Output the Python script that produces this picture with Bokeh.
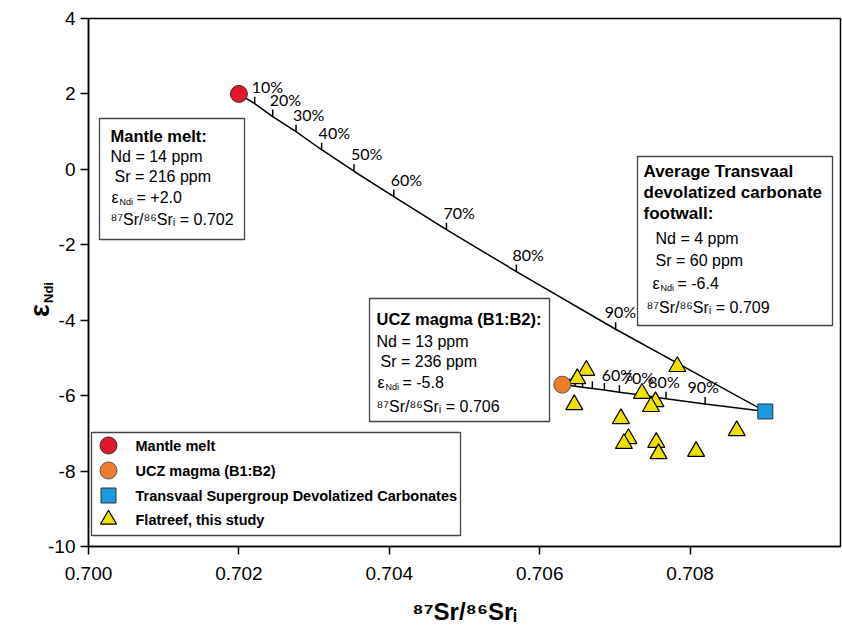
import numpy as np
from bokeh.plotting import figure
from bokeh.models import Range1d, FixedTicker, PrintfTickFormatter, Label, BoxAnnotation
from bokeh.embed import file_html
from bokeh.resources import INLINE
from bokeh.core.properties import value

# ---------------- data ----------------
mantle_sr = [0.702]
mantle_end = [2.0]
ucz_sr = [0.7063]
ucz_end = [-5.71]
carb_sr = [0.709]
carb_end = [-6.42]

flat_sr = [0.70783, 0.70662, 0.70650, 0.70646, 0.70736, 0.70754, 0.70748,
           0.70708, 0.70718, 0.70712, 0.70755, 0.70758, 0.70808, 0.70862]
flat_end = [-5.23, -5.33, -5.55, -6.24, -5.94, -6.16, -6.29,
            -6.61, -7.14, -7.27, -7.24, -7.54, -7.48, -6.93]

mix_labels = ["10%", "20%", "30%", "40%", "50%", "60%", "70%", "80%", "90%"]
# mantle melt -> carbonate mixing curve
mix1_sr = [0.70221, 0.70245, 0.70276, 0.70310, 0.70353, 0.70406, 0.70476, 0.70569, 0.70701]
mix1_end = [1.74, 1.40, 1.00, 0.52, -0.05, -0.72, -1.60, -2.71, -4.24]
# UCZ magma -> carbonate mixing curve
mix2_sr = [0.70640, 0.70647, 0.70657, 0.70670, 0.70686, 0.70706, 0.70734, 0.70768, 0.70820]
mix2_end = [-5.73, -5.75, -5.78, -5.81, -5.85, -5.91, -5.98, -6.08, -6.22]

x_ticks = [0.700, 0.702, 0.704, 0.706, 0.708]
y_ticks = [-10, -8, -6, -4, -2, 0, 2, 4]

# ---------------- layout constants ----------------
W, H = 842, 632
FL, FT, FR, FB = 88, 18, 840, 546      # frame edges in window px
X0, X1, Y0, Y1 = 0.700, 0.710, -10, 4

def dx(px):
    return X0 + (px - FL) / (FR - FL) * (X1 - X0)

def dy(py):
    return Y1 - (py - FT) / (FB - FT) * (Y1 - Y0)

RED = "#E3172C"
ORANGE = "#EE7D2B"
BLUE = "#1A9BDB"
YELLOW = "#EEE100"
FONT = "Liberation Sans"

p = figure(width=W, height=H, x_range=Range1d(X0, X1), y_range=Range1d(Y0, Y1),
           output_backend="svg", toolbar_location=None,
           min_border_left=FL, min_border_right=W - FR, min_border_top=FT,
           min_border_bottom=H - FB)
p.background_fill_color = "white"
p.border_fill_color = "white"
p.outline_line_color = "black"
p.outline_line_width = 1.5
p.xgrid.visible = False
p.ygrid.visible = False

for ax in (p.xaxis[0], p.yaxis[0]):
    ax.axis_line_color = "black"
    ax.axis_line_width = 1.5
    ax.major_tick_line_color = "black"
    ax.major_tick_line_width = 1.5
    ax.major_tick_out = 8
    ax.major_tick_in = 0
    ax.minor_tick_line_color = None
    ax.major_label_text_font = FONT
    ax.major_label_text_font_size = "19px"
    ax.major_label_text_color = "black"

p.xaxis.ticker = FixedTicker(ticks=x_ticks)
p.yaxis.ticker = FixedTicker(ticks=y_ticks)
p.xaxis.formatter = PrintfTickFormatter(format="%.3f")
p.yaxis.formatter = PrintfTickFormatter(format="%d")
p.xaxis.major_label_standoff = 12
p.yaxis.major_label_standoff = 5

p.xaxis.axis_label = "\u2078\u2077Sr/\u2078\u2076Sr\u1d62"
p.xaxis.axis_label_text_font = FONT
p.xaxis.axis_label_text_font_size = "24px"
p.xaxis.axis_label_text_font_style = "bold"
p.xaxis.axis_label_text_color = "black"
p.xaxis.axis_label_standoff = 15

# ---------------- mixing lines ----------------
line1_x = mantle_sr + mix1_sr + carb_sr
line1_y = mantle_end + mix1_end + carb_end
line2_x = ucz_sr + mix2_sr + carb_sr
line2_y = ucz_end + mix2_end + carb_end
p.line(line1_x, line1_y, line_color="black", line_width=1.5)
p.line(line2_x, line2_y, line_color="black", line_width=1.5)

p.ray(x=mix1_sr, y=mix1_end, length=7, length_units="screen", angle=np.pi / 2,
      line_color="black", line_width=1.5)
p.ray(x=mix2_sr, y=mix2_end, length=7, length_units="screen", angle=np.pi / 2,
      line_color="black", line_width=1.5)

lab1_dx = [-3, -3, -3, -3, -3, -3, -3, -4, -11]
p.text(x=mix1_sr, y=mix1_end, text=mix_labels, x_offset=lab1_dx, y_offset=-8,
       text_font=value("Lato"), text_font_size="16px", text_color="black",
       text_align="left", text_baseline="bottom")
p.text(x=mix2_sr[5:], y=mix2_end[5:], text=mix_labels[5:], x_offset=-2, y_offset=-8,
       text_font=value("Lato"), text_font_size="16px", text_color="black",
       text_align="center", text_baseline="bottom")

# ---------------- points ----------------
p.scatter(flat_sr, flat_end, marker="triangle", size=17, fill_color=YELLOW,
          line_color="black", line_width=1.2)
p.scatter(mantle_sr, mantle_end, marker="circle", size=17, fill_color=RED,
          line_color="#333333", line_width=1)
p.scatter(ucz_sr, ucz_end, marker="circle", size=17, fill_color=ORANGE,
          line_color="#555555", line_width=1)
p.scatter(carb_sr, carb_end, marker="square", size=15, fill_color=BLUE,
          line_color="#333333", line_width=1)

# ---------------- helpers for annotation boxes ----------------
def box(l, t, r, b):
    p.add_layout(BoxAnnotation(left=dx(l), right=dx(r), top=dy(t), bottom=dy(b),
                               fill_color="white", fill_alpha=1.0,
                               line_color="#444444", line_width=1.3, line_alpha=1.0))

def txt(s, px, py, size=16, bold=False, align="left", baseline="middle", angle=0.0):
    p.add_layout(Label(x=dx(px), y=dy(py), text=s, text_font=FONT,
                       text_font_size=f"{size}px",
                       text_font_style="bold" if bold else "normal",
                       text_color="black", text_align=align,
                       text_baseline=baseline, angle=angle))

def eps_line(px, py, rest):
    txt("\u03b5", px, py, 16)
    txt("Ndi", px + 8, py + 4, 9)
    txt(rest, px + 25, py, 16)

SRI = "\u2078\u2077Sr/\u2078\u2076Sr\u1d62 = "

# mantle melt box
box(99, 118, 244, 239)
txt("Mantle melt:", 110, 135, 16.5, bold=True)
txt("Nd = 14 ppm", 110, 156)
txt("Sr = 216 ppm", 114, 176)
eps_line(111, 197, "= +2.0")
txt(SRI + "0.702", 110, 219)

# UCZ box
box(369, 298, 549, 421)
txt("UCZ magma (B1:B2):", 376, 318, 16.5, bold=True)
txt("Nd = 13 ppm", 376, 341)
txt("Sr = 236 ppm", 380, 361)
eps_line(377, 382, "= -5.8")
txt(SRI + "0.706", 376, 406)

# Transvaal box
box(637, 156, 832, 325)
txt("Average Transvaal", 643, 171, 17, bold=True)
txt("devolatized carbonate", 643, 192, 17, bold=True)
txt("footwall:", 643, 213, 17, bold=True)
txt("Nd = 4 ppm", 655, 238)
txt("Sr = 60 ppm", 655, 260)
eps_line(652, 283, "= -6.4")
txt(SRI + "0.709", 646, 307)

# legend (drawn by hand so the markers keep their plot size)
box(91, 432, 460, 535)
leg_y = [445, 470, 495, 519]
leg_text = ["Mantle melt", "UCZ magma (B1:B2)",
            "Transvaal Supergroup Devolatized Carbonates", "Flatreef, this study"]
p.scatter([dx(108)], [dy(leg_y[0])], marker="circle", size=17, fill_color=RED,
          line_color="#333333", line_width=1, level="overlay")
p.scatter([dx(108)], [dy(leg_y[1])], marker="circle", size=17, fill_color=ORANGE,
          line_color="#555555", line_width=1, level="overlay")
p.scatter([dx(108)], [dy(leg_y[2])], marker="square", size=15, fill_color=BLUE,
          line_color="#333333", line_width=1, level="overlay")
p.scatter([dx(108)], [dy(leg_y[3])], marker="triangle", size=16, fill_color=YELLOW,
          line_color="black", line_width=1.2, level="overlay")
for s, yy in zip(leg_text, leg_y):
    txt(s, 135, yy, 14.5, bold=True)

# y axis title (epsilon Nd initial): labels placed in the left side panel
p.add_layout(Label(x=24, y=236, x_units="screen", y_units="screen", text="\u03b5",
                   text_font=FONT, text_font_size="27px", text_font_style="bold",
                   text_color="black", text_align="center", text_baseline="middle",
                   angle=np.pi / 2), "left")
p.add_layout(Label(x=48, y=254, x_units="screen", y_units="screen", text="Ndi",
                   text_font=FONT, text_font_size="13px", text_font_style="bold",
                   text_color="black", text_align="center", text_baseline="middle",
                   angle=np.pi / 2), "left")

open("out.html", "w").write(file_html(p, INLINE))
